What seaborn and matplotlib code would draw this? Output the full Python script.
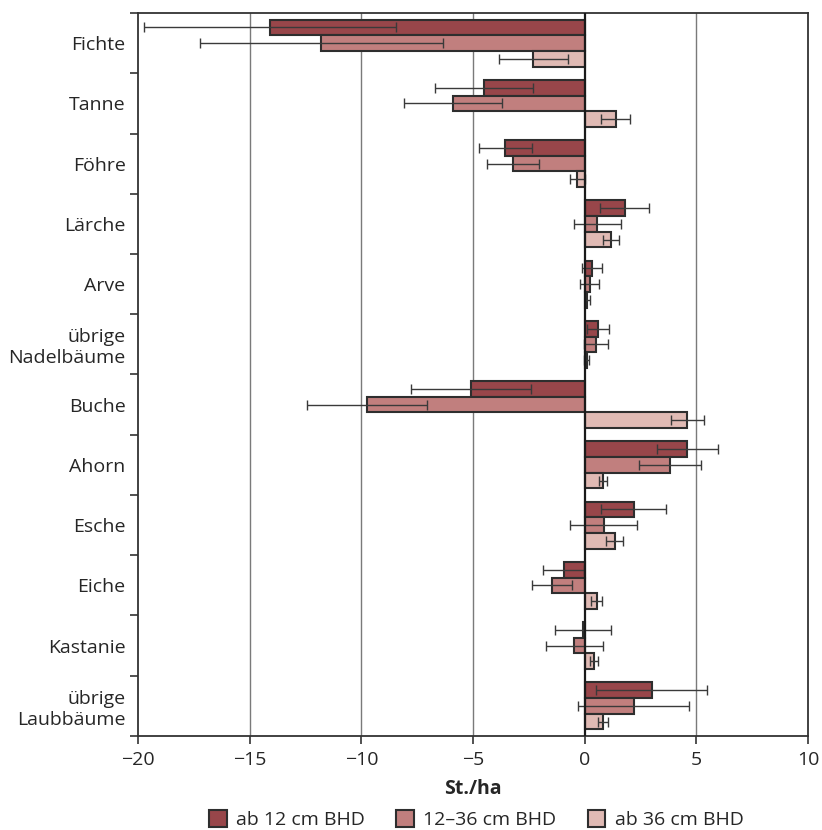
import pandas as pd
import matplotlib
matplotlib.use("Agg")
import matplotlib.pyplot as plt
import seaborn as sns

# Baumarten und Serien
arten = ['Fichte', 'Tanne', 'Föhre', 'Lärche', 'Arve', 'übrige\nNadelbäume',
         'Buche', 'Ahorn', 'Esche', 'Eiche', 'Kastanie', 'übrige\nLaubbäume']
serien = ['ab 12 cm BHD', '12–36 cm BHD', 'ab 36 cm BHD']

# Werte (St./ha) je Serie
werte_ab12 = [-14.1, -4.5, -3.55, 1.8, 0.33, 0.59, -5.1, 4.6, 2.2, -0.95, -0.07, 3.0]
werte_12_36 = [-11.8, -5.9, -3.2, 0.57, 0.22, 0.51, -9.75, 3.8, 0.85, -1.48, -0.47, 2.2]
werte_ab36 = [-2.3, 1.38, -0.33, 1.18, 0.12, 0.08, 4.6, 0.81, 1.34, 0.53, 0.4, 0.83]

# Fehlerbalken (halbe Breite)
fehler_ab12 = [5.65, 2.2, 1.18, 1.1, 0.45, 0.49, 2.7, 1.38, 1.45, 0.9, 1.25, 2.49]
fehler_12_36 = [5.45, 2.2, 1.17, 1.05, 0.43, 0.52, 2.68, 1.39, 1.5, 0.9, 1.27, 2.48]
fehler_ab36 = [1.55, 0.66, 0.33, 0.35, 0.1, 0.1, 0.74, 0.18, 0.37, 0.24, 0.18, 0.23]

farben = ['#98464a', '#c17f7e', '#e0bab4']

df = pd.DataFrame({
    'Art': arten * 3,
    'Serie': [s for s in serien for _ in arten],
    'Wert': werte_ab12 + werte_12_36 + werte_ab36,
})
fehler = [fehler_ab12, fehler_12_36, fehler_ab36]
werte = [werte_ab12, werte_12_36, werte_ab36]

sns.set_style('white')
plt.rcParams['font.family'] = ['Open Sans', 'DejaVu Sans']

fig = plt.figure(figsize=(8.22, 8.30), dpi=100)
ax = fig.add_axes([0.168, 0.1133, 0.815, 0.871])

# Gitterlinien
for x in [-15, -10, -5, 5]:
    ax.axvline(x, color='#7a7a7a', lw=1.0, zorder=0)

sns.barplot(data=df, y='Art', x='Wert', hue='Serie', order=arten, hue_order=serien,
            palette=farben, width=0.78, edgecolor='#2e2e2e', linewidth=1.5,
            saturation=1, orient='h', ax=ax, legend=True, zorder=2)

# Fehlerbalken an die Balken setzen
for cont, w, f in zip(ax.containers, werte, fehler):
    ys = [b.get_y() + b.get_height() / 2 for b in cont]
    ax.errorbar(w, ys, xerr=f, fmt='none', ecolor='#3a3a3a', elinewidth=1.0,
                capsize=3.8, capthick=1.0, zorder=3)

ax.axvline(0, color='#1a1a1a', lw=1.6, zorder=4)

ax.set_xlim(-20, 10)
ax.set_ylim(len(arten) - 0.5, -0.5)
ax.set_xticks([-20, -15, -10, -5, 0, 5, 10])
ax.set_xlabel('St./ha', fontsize=14, fontweight='bold', labelpad=7)
ax.set_ylabel('')

ax.tick_params(axis='x', direction='out', length=6, width=1.2, labelsize=14,
               color='#333333', bottom=True, pad=5)
ax.tick_params(axis='y', which='major', length=0, labelsize=14, pad=9)
ax.set_yticks([i - 0.5 for i in range(len(arten) + 1)], minor=True)
ax.tick_params(axis='y', which='minor', direction='out', length=6, width=1.2,
               color='#333333', left=True)

for s in ax.spines.values():
    s.set_color('#333333')
    s.set_linewidth(1.3)

ax.legend(loc='center', bbox_to_anchor=(0.505, -0.116), ncol=3, frameon=False,
          fontsize=14, handlelength=0.9, handleheight=0.9, columnspacing=1.6,
          handletextpad=0.5, title=None)
for h in ax.get_legend().legend_handles:
    h.set_edgecolor('#2e2e2e')
    h.set_linewidth(1.5)

fig.savefig('out.png', dpi=100)
